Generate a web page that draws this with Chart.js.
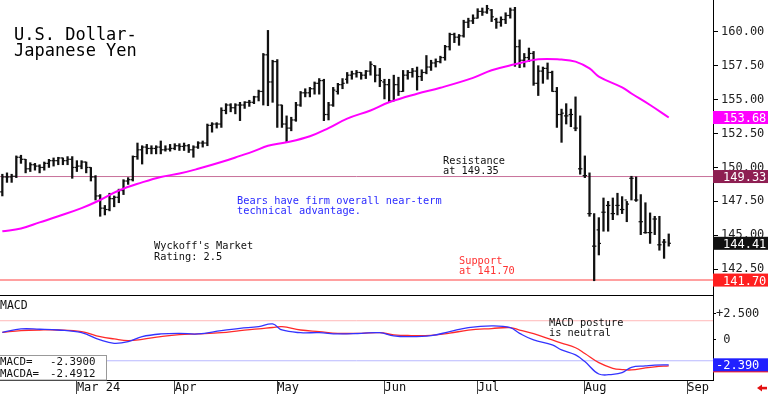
<!DOCTYPE html>
<html>
<head>
<meta charset="utf-8">
<script src="https://cdn.jsdelivr.net/npm/chart.js@4.4.1/dist/chart.umd.min.js"></script>
<style>
html, body { margin: 0; padding: 0; background: #fff; width: 768px; height: 394px; overflow: hidden; }
#wrap { position: relative; width: 768px; height: 394px; }
canvas { position: absolute; left: 0; }
#priceChart { top: 0; }
#macdChart { top: 296px; }
</style>
</head>
<body>
<div id="wrap">
  <canvas id="priceChart" width="768" height="296"></canvas>
  <canvas id="macdChart" width="768" height="98"></canvas>
</div>
<script>
// daily bars, one per trading day starting Feb 8 2024
const opens = [148.2,149.3,149.3,149.35,150.75,150.6,149.9,150.2,150.1,150.0,150.3,150.5,150.5,150.7,150.5,150.6,
  150.0,150.1,150.4,150.0,149.3,147.9,147.0,146.9,147.7,147.8,148.3,149.0,149.1,150.8,151.3,151.5,151.4,151.4,151.5,151.3,151.35,
  151.4,151.6,151.55,151.6,151.3,151.5,151.8,151.8,153.1,153.2,153.2,154.2,154.6,154.4,154.6,154.6,154.8,154.8,155.2,155.6,158.3,156.3,
  157.8,154.6,153.2,152.9,153.5,154.6,155.5,155.5,155.8,156.2,156.4,153.9,154.6,155.6,156.1,156.5,156.8,156.9,157.0,156.8,157.1,157.5,156.8,
  156.3,156.1,154.9,156.1,155.6,156.8,157.0,157.1,156.7,157.0,157.4,157.7,157.8,158.1,158.9,159.8,159.6,159.7,160.7,160.8,
  161.0,161.5,161.45,161.6,160.9,160.7,160.9,161.2,161.6,158.9,157.9,158.1,158.4,156.2,157.1,157.3,157.0,155.6,153.9,153.8,153.9,152.9,
  149.9,149.4,146.6,144.2,145.4,146.7,147.2,146.6,147.2,146.9,147.6,149.2,147.6,146.0,145.2,145.2,146.2,144.3,144.5]
const highs = [149.5,149.6,149.5,150.85,150.9,150.6,150.35,150.3,150.2,150.4,150.6,150.7,150.75,150.7,150.8,150.8,
  150.5,150.5,150.4,150.0,149.4,148.0,147.2,148.1,147.9,148.4,149.1,149.25,150.85,151.8,151.6,151.7,151.6,151.6,151.95,151.6,151.7,
  151.75,151.75,151.8,151.7,151.6,151.9,151.95,153.2,153.3,153.3,154.4,154.7,154.7,154.7,154.8,154.85,154.95,155.25,155.7,158.4,160.1,157.9,
  157.95,154.6,153.8,153.7,154.8,155.6,155.8,155.9,156.3,156.55,156.5,154.8,155.9,156.2,156.55,157.0,157.1,157.15,157.0,157.15,157.8,157.5,157.3,
  156.5,156.5,156.8,156.65,157.15,157.15,157.3,157.4,157.2,158.25,157.9,158.0,158.2,159.0,159.9,159.9,159.8,160.85,161.0,161.25,
  161.7,161.75,161.95,161.65,161.0,161.1,161.4,161.75,161.8,159.4,158.4,158.8,158.55,157.5,157.4,157.7,157.1,155.9,154.3,154.7,154.3,155.2,153.8,
  150.85,149.6,146.6,146.3,147.75,147.5,147.75,148.1,147.85,147.5,149.35,149.3,148.0,147.4,146.65,146.4,146.4,144.7,145.1]
const lows = [147.9,148.9,148.9,149.25,150.3,149.6,149.7,149.8,149.6,149.8,150.0,150.1,150.2,150.2,150.2,149.2,
  149.7,149.9,149.6,149.0,147.6,146.4,146.5,146.8,147.1,147.4,148.0,148.75,149.0,150.6,150.25,151.0,151.0,151.0,151.0,151.2,151.2,
  151.3,151.25,151.25,151.1,150.75,151.4,151.5,151.6,152.6,152.9,152.95,153.95,154.1,153.95,153.45,154.35,154.5,154.7,154.9,154.6,154.55,154.8,
  152.95,152.95,151.85,152.7,153.4,154.5,155.2,155.2,155.4,155.4,153.45,153.5,154.5,155.4,155.8,156.2,156.5,156.65,156.5,156.55,156.8,156.3,155.95,
  155.05,154.8,154.9,155.3,155.6,156.5,156.65,155.7,156.4,156.9,157.15,157.4,157.7,157.9,158.65,159.2,159.0,159.6,160.3,160.6,
  161.0,161.2,161.35,160.75,160.25,160.4,160.6,161.0,157.45,157.35,157.4,157.8,156.05,155.3,156.2,156.5,155.6,152.95,151.85,153.2,153.0,152.7,149.5,
  149.25,146.4,141.65,143.55,145.3,145.3,146.15,146.5,146.6,146.0,147.6,147.5,145.05,145.15,144.4,145.05,143.9,143.3,144.2]
const closes = [149.3,149.3,149.35,150.75,150.6,149.9,150.2,150.1,150.0,150.3,150.5,150.5,150.7,150.5,150.6,150.0,
  150.1,150.4,150.0,149.3,147.9,147.0,146.9,147.7,147.8,148.3,149.0,149.1,150.8,151.3,151.5,151.4,151.4,151.5,151.3,151.35,151.4,
  151.6,151.55,151.6,151.3,151.5,151.8,151.8,153.1,153.2,153.2,154.2,154.6,154.4,154.6,154.6,154.8,154.8,155.2,155.6,158.3,156.3,157.8,
  154.6,153.2,152.9,153.5,154.6,155.5,155.5,155.8,156.2,156.4,153.9,154.6,155.7,156.1,156.2,156.8,156.9,157.0,156.8,157.1,157.6,156.8,156.4,
  156.1,154.9,156.1,155.6,156.8,157.0,157.1,156.7,157.0,157.4,157.7,157.8,158.1,158.9,159.8,159.6,159.7,160.7,160.8,161.0,
  161.5,161.45,161.7,161.1,160.7,160.9,161.2,161.6,158.9,157.9,158.1,158.4,156.2,157.1,157.3,157.0,155.6,153.9,154.0,153.8,153.9,152.9,149.9,
  149.4,146.6,144.2,144.4,146.7,147.2,146.6,147.2,146.9,147.3,149.2,147.6,146.0,145.2,145.2,146.2,144.3,144.5,144.41]

// moving average, read at these bar positions
const maIdx = [0,4,8,12,17,21,25,30,34,38,42,47,51,54,57,61,66,70,74,79,83,89,94,101,105,110,115,120,123,126,128,133,135,139,143]
const maVals = [145.3,145.5,145.95,146.4,147.0,147.6,148.3,148.9,149.3,149.55,149.9,150.4,150.85,151.2,151.6,151.85,152.3,152.9,153.6,154.2,
  154.8,155.43,155.87,156.6,157.16,157.6,157.97,157.95,157.8,157.3,156.7,155.9,155.45,154.6,153.68]

// MACD and its average
const macdIdx = [0,4,8,12,17,21,24,27,30,34,38,42,47,51,55,58,60,64,68,72,77,81,84,87,92,96,100,105,109,111,114,118,120,123,125,128,131,133,135,138,140,143]
const macdVals = [0.74,1.06,1.03,0.96,0.7,0.0,-0.32,-0.16,0.32,0.58,0.64,0.58,0.9,1.12,1.28,1.54,0.96,0.7,0.7,0.58,0.64,0.7,0.4,0.32,0.42,0.8,
  1.19,1.35,1.19,0.64,0.0,-0.48,-0.96,-1.44,-2.08,-3.27,-3.3,-3.14,-2.63,-2.5,-2.42,-2.39]
const signalVals = [0.74,0.9,0.96,0.96,0.8,0.32,0.1,-0.06,0.06,0.32,0.51,0.58,0.7,0.9,1.06,1.2,1.28,0.96,0.8,0.64,0.64,0.7,0.5,0.43,0.45,0.65,
  0.95,1.1,1.19,0.95,0.6,0.0,-0.3,-0.75,-1.3,-2.18,-2.72,-2.85,-2.88,-2.68,-2.58,-2.4912]

const priceTicks = [142.5, 145, 147.5, 150, 152.5, 155, 157.5, 160]
const macdTicks = [-2.5, 0, 2.5]
const monthIdx = [16, 37, 59, 82, 102, 125, 147]
const monthLabels = ['Mar 24', 'Apr', 'May', 'Jun', 'Jul', 'Aug', 'Sep']
const resistance = 149.33
const support = 141.70
const macdUpper = 1.85
const macdLower = -2.0

const xMin = -0.5
const xMax = 152.5
const MONO = '"DejaVu Sans Mono", "Liberation Mono", monospace'

function txt(ctx, s, x, y, size, color) {
    ctx.save()
    ctx.font = size + 'px ' + MONO
    ctx.fillStyle = color
    ctx.textAlign = 'left'
    ctx.textBaseline = 'alphabetic'
    ctx.fillText(s, x, y)
    ctx.restore()
}

function valueBox(ctx, scale, value, label, bg, fg, textX) {
    const y = scale.getPixelForValue(value)
    ctx.fillStyle = bg
    ctx.fillRect(scale.left, y - 6.5, ctx.canvas.width - scale.left, 13)
    if (label) txt(ctx, label, textX, y + 4.5, 12, fg)
}

function hLine(value, color, width) {
    return {
        type: 'line',
        data: [{x: xMin, y: value}, {x: xMax, y: value}],
        borderColor: color,
        borderWidth: width,
        pointRadius: 0,
        order: 8
    }
}

// drop the automatic label padding so the plot fills the canvas
function fitWidth(s) {
    s.width = 55
    s.paddingTop = 0
    s.paddingBottom = 0
}
function fitHeight(h) {
    return (s) => {
        s.height = h
        s.paddingLeft = 0
        s.paddingRight = 0
    }
}

const pricePlugin = {
    id: 'priceText',
    afterDraw(chart) {
        const ctx = chart.ctx
        const y = chart.scales.y
        txt(ctx, 'U.S. Dollar-', 14, 39.5, 17, '#000')
        txt(ctx, 'Japanese Yen', 14, 55.5, 17, '#000')
        txt(ctx, 'Resistance', 443, 164, 10.3, '#111')
        txt(ctx, 'at 149.35', 443, 174, 10.3, '#111')
        txt(ctx, 'Bears have firm overall near-term', 237, 204, 10.3, '#2b2bff')
        txt(ctx, 'technical advantage.', 237, 214, 10.3, '#2b2bff')
        txt(ctx, "Wyckoff's Market", 154, 249, 10.3, '#111')
        txt(ctx, 'Rating: 2.5', 154, 259.5, 10.3, '#111')
        txt(ctx, 'Support', 459, 263.5, 10.3, '#ff3333')
        txt(ctx, 'at 141.70', 459, 273.5, 10.3, '#ff3333')

        const lastMa = maVals[maVals.length - 1]
        const lastClose = closes[closes.length - 1]
        valueBox(ctx, y, lastMa, lastMa.toFixed(2), '#ff00ff', '#fff', 723)
        valueBox(ctx, y, resistance, resistance.toFixed(2), '#8e1f52', '#fff', 723)
        valueBox(ctx, y, lastClose, lastClose.toFixed(2), '#111', '#fff', 723)
        valueBox(ctx, y, support, support.toFixed(2), '#ff1f1f', '#fff', 723)
    }
}

const macdPlugin = {
    id: 'macdText',
    afterDraw(chart) {
        const ctx = chart.ctx
        const y = chart.scales.y
        const area = chart.chartArea
        txt(ctx, 'MACD', 0, 12.5, 11.5, '#111')
        txt(ctx, 'MACD posture', 549, 30, 10.3, '#111')
        txt(ctx, 'is neutral', 549, 40, 10.3, '#111')

        // readout box
        ctx.fillStyle = '#fff'
        ctx.fillRect(0, 59, 107, area.bottom - 59)
        ctx.strokeStyle = '#999'
        ctx.lineWidth = 1
        ctx.strokeRect(-0.5, 59.5, 107, area.bottom - 59.5)
        const lastMacd = macdVals[macdVals.length - 1]
        const lastSig = signalVals[signalVals.length - 1]
        txt(ctx, 'MACD=', 0, 69, 10.8, '#111')
        txt(ctx, lastMacd.toFixed(4), 50, 69, 10.8, '#111')
        txt(ctx, 'MACDA=', 0, 80.5, 10.8, '#111')
        txt(ctx, lastSig.toFixed(4), 50, 80.5, 10.8, '#111')

        valueBox(ctx, y, lastSig, '', '#ff2020', '#fff', 716)
        valueBox(ctx, y, lastMacd, lastMacd.toFixed(3), '#2020ff', '#fff', 716)

        // small red arrow at the far right of the date axis
        ctx.fillStyle = '#e31010'
        ctx.beginPath()
        ctx.moveTo(757, 92)
        ctx.lineTo(762, 88.5)
        ctx.lineTo(762, 95.5)
        ctx.closePath()
        ctx.fill()
        ctx.fillRect(761, 90.8, 6, 2.6)
    }
}

const priceCtx = document.getElementById('priceChart').getContext('2d')
const priceChart = new Chart(priceCtx, {
    type: 'bar',
    data: {
        datasets: [
            hLine(resistance, '#c8719a', 1),
            hLine(support, '#ffa0a0', 2),
            {
                type: 'bar',
                data: highs.map((h, i) => ({x: i, y: [lows[i], h]})),
                backgroundColor: '#111',
                barThickness: 1.6,
                order: 3
            },
            {
                type: 'line',
                data: opens.map((o, i) => ({x: i, y: o})),
                showLine: false,
                pointStyle: 'dash',
                pointRotation: 180,
                pointRadius: 2.2,
                pointBorderWidth: 1.2,
                pointBorderColor: '#111',
                order: 2
            },
            {
                type: 'line',
                data: closes.map((c, i) => ({x: i, y: c})),
                showLine: false,
                pointStyle: 'dash',
                pointRadius: 2.2,
                pointBorderWidth: 1.2,
                pointBorderColor: '#111',
                order: 2
            },
            {
                type: 'line',
                data: maIdx.map((x, i) => ({x: x, y: maVals[i]})),
                borderColor: '#ff00ff',
                borderWidth: 2,
                pointRadius: 0,
                tension: 0.4,
                order: 1
            }
        ]
    },
    options: {
        responsive: false,
        animation: false,
        devicePixelRatio: 1,
        layout: {padding: 0, autoPadding: false},
        plugins: {legend: {display: false}, tooltip: {enabled: false}},
        scales: {
            x: {
                type: 'linear', min: xMin, max: xMax, offset: false,
                grid: {display: false, drawTicks: false},
                ticks: {display: false},
                border: {display: true, color: '#000', width: 1},
                afterFit: fitHeight(1)
            },
            y: {
                position: 'right', min: 140.6, max: 162.34,
                afterBuildTicks: (s) => { s.ticks = priceTicks.map(v => ({value: v})) },
                afterFit: fitWidth,
                grid: {drawOnChartArea: false, drawTicks: true, tickLength: 5, color: '#000'},
                border: {color: '#000', width: 1},
                ticks: {
                    padding: 3, color: '#222',
                    font: {family: MONO, size: 12},
                    callback: (v) => Number(v).toFixed(2)
                }
            }
        }
    },
    plugins: [pricePlugin]
})

const macdCtx = document.getElementById('macdChart').getContext('2d')
const macdChart = new Chart(macdCtx, {
    type: 'line',
    data: {
        datasets: [
            hLine(macdUpper, '#ffb8b8', 1),
            hLine(macdLower, '#b8b8ff', 1),
            {
                data: signalVals.map((v, i) => ({x: macdIdx[i], y: v})),
                borderColor: '#ff2a2a',
                borderWidth: 1.3,
                pointRadius: 0,
                tension: 0.4,
                order: 2
            },
            {
                data: macdVals.map((v, i) => ({x: macdIdx[i], y: v})),
                borderColor: '#3333ff',
                borderWidth: 1.3,
                pointRadius: 0,
                tension: 0.4,
                order: 1
            }
        ]
    },
    options: {
        responsive: false,
        animation: false,
        devicePixelRatio: 1,
        layout: {padding: 0, autoPadding: false},
        plugins: {legend: {display: false}, tooltip: {enabled: false}},
        scales: {
            x: {
                type: 'linear', min: xMin, max: xMax, offset: false,
                afterBuildTicks: (s) => { s.ticks = monthIdx.map(v => ({value: v})) },
                afterFit: fitHeight(14),
                grid: {drawOnChartArea: false, drawTicks: true, tickLength: 14, color: '#444'},
                border: {color: '#000', width: 1},
                ticks: {
                    align: 'start', padding: -13, color: '#111', maxRotation: 0, autoSkip: false,
                    font: {family: MONO, size: 12},
                    callback: (v) => monthLabels[monthIdx.indexOf(v)]
                }
            },
            y: {
                position: 'right', min: -3.85, max: 4.23,
                afterBuildTicks: (s) => { s.ticks = macdTicks.map(v => ({value: v})) },
                afterFit: fitWidth,
                grid: {drawOnChartArea: false, drawTicks: true, tickLength: 3, color: '#000'},
                border: {color: '#000', width: 1},
                ticks: {
                    padding: 0, color: '#222',
                    font: {family: MONO, size: 12},
                    callback: (v) => v > 0 ? '+' + v.toFixed(3) : (v < 0 ? v.toFixed(3) : ' 0')
                }
            }
        }
    },
    plugins: [macdPlugin]
})
</script>
</body>
</html>
